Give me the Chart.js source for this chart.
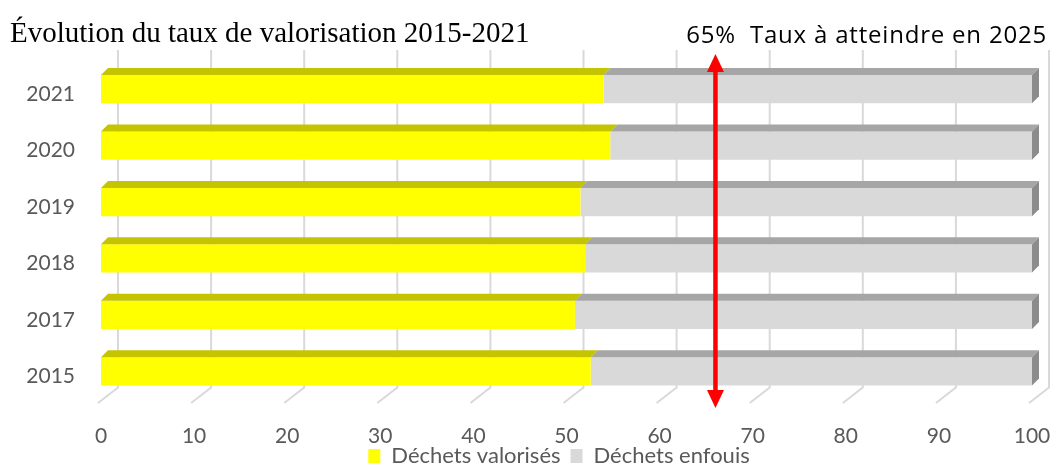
<!DOCTYPE html>
<html>
<head>
<meta charset="utf-8">
<script src="https://cdn.jsdelivr.net/npm/chart.js@4"></script>
<style>
  html, body { margin: 0; padding: 0; background: #fff; }
</style>
</head>
<body>
<canvas id="myChart" width="1051" height="466"></canvas>
<script>
// données
const annees = ['2021', '2020', '2019', '2018', '2017', '2015'];
const valorises = [54.0, 54.7, 51.5, 52.0, 50.9, 52.6];
const enfouis = [46.0, 45.3, 48.5, 48.0, 49.1, 47.4];
const graduations = [0, 10, 20, 30, 40, 50, 60, 70, 80, 90, 100];
const cible = 66;   // position de la flèche rouge sur l'axe
const titre = 'Évolution du taux de valorisation 2015-2021';
const texteCible = '65%  Taux à atteindre en 2025';

const police = 'Lato';
const gris = '#595959';
const DX = 7, DY = 7;   // profondeur du relief

const relief = {
    id: 'relief',
    afterLayout(chart) {
        // la légende est un peu plus haut et décalée à droite
        const lg = chart.legend;
        lg.top -= 10; lg.bottom -= 10;
        lg.left += 43; lg.right += 43;
    },
    beforeDatasetsDraw(chart) {
        const {ctx, chartArea: ca, scales: {x}} = chart;
        ctx.save();
        ctx.strokeStyle = '#d9d9d9';
        ctx.lineWidth = 2;
        graduations.forEach(v => {
            const px = x.getPixelForValue(v);
            ctx.beginPath();
            ctx.moveTo(px + 17, ca.top - 11);
            ctx.lineTo(px + 17, ca.bottom - 12);
            ctx.lineTo(px - 3, ca.bottom + 3.5);
            ctx.stroke();
        });
        ctx.restore();
    },
    afterDatasetsDraw(chart) {
        const ctx = chart.ctx;
        const last = chart.data.datasets.length - 1;
        ctx.save();
        chart.data.datasets.forEach((ds, i) => {
            chart.getDatasetMeta(i).data.forEach(bar => {
                const p = bar.getProps(['x', 'y', 'base', 'height'], true);
                const top = p.y - p.height / 2, bot = p.y + p.height / 2;
                ctx.fillStyle = ds.dessus;
                ctx.beginPath();
                ctx.moveTo(p.base, top);
                ctx.lineTo(p.x, top);
                ctx.lineTo(p.x + DX, top - DY);
                ctx.lineTo(p.base + DX, top - DY);
                ctx.closePath();
                ctx.fill();
                if (i === last) {
                    ctx.fillStyle = '#8c8c8c';
                    ctx.beginPath();
                    ctx.moveTo(p.x, top);
                    ctx.lineTo(p.x + DX, top - DY);
                    ctx.lineTo(p.x + DX, bot - DY);
                    ctx.lineTo(p.x, bot);
                    ctx.closePath();
                    ctx.fill();
                }
            });
        });
        ctx.restore();
    },
    afterDraw(chart) {
        const {ctx, chartArea: ca, scales: {x}} = chart;
        ctx.save();
        // titre
        ctx.fillStyle = '#000';
        ctx.textBaseline = 'alphabetic';
        ctx.textAlign = 'left';
        ctx.font = '29px "Liberation Serif"';
        ctx.fillText(titre, 10, 42);
        ctx.font = '24px "Open Sans"';
        ctx.letterSpacing = '0.8px';
        ctx.textAlign = 'right';
        ctx.fillText(texteCible, 1047, 43);
        ctx.letterSpacing = '0px';

        // flèche rouge
        const ax = x.getPixelForValue(cible);
        const y1 = ca.top - 7, y2 = ca.bottom + 8.5;
        const tete = 18, demi = 8.5;
        ctx.strokeStyle = '#ff0000';
        ctx.fillStyle = '#ff0000';
        ctx.lineWidth = 4.5;
        ctx.beginPath();
        ctx.moveTo(ax, y1 + tete - 2);
        ctx.lineTo(ax, y2 - tete + 2);
        ctx.stroke();
        ctx.beginPath();
        ctx.moveTo(ax, y1);
        ctx.lineTo(ax + demi, y1 + tete);
        ctx.lineTo(ax - demi, y1 + tete);
        ctx.closePath();
        ctx.fill();
        ctx.beginPath();
        ctx.moveTo(ax, y2);
        ctx.lineTo(ax + demi, y2 - tete);
        ctx.lineTo(ax - demi, y2 - tete);
        ctx.closePath();
        ctx.fill();
        ctx.restore();
    }
};

new Chart(document.getElementById('myChart'), {
    type: 'bar',
    data: {
        labels: annees,
        datasets: [{
            label: 'Déchets valorisés',
            data: valorises,
            backgroundColor: '#ffff00',
            dessus: '#c4c400',
            borderWidth: 0,
            barPercentage: 0.5,
            categoryPercentage: 1
        }, {
            label: 'Déchets enfouis',
            data: enfouis,
            backgroundColor: '#d9d9d9',
            dessus: '#a6a6a6',
            borderWidth: 0,
            barPercentage: 0.5,
            categoryPercentage: 1
        }]
    },
    options: {
        indexAxis: 'y',
        responsive: false,
        animation: false,
        layout: {padding: {top: 61, right: 19, bottom: -21, left: 0}},
        scales: {
            x: {
                stacked: true,
                min: 0,
                max: 100,
                grid: {display: false, drawTicks: false},
                border: {display: false},
                ticks: {stepSize: 10, color: gris, padding: 24, font: {family: police, size: 21}},
                afterFit: s => { s.height = 45.5; s.paddingLeft = 0; s.paddingRight = 0; }
            },
            y: {
                stacked: true,
                grid: {display: false, drawTicks: false},
                border: {display: false},
                ticks: {color: gris, padding: 26, labelOffset: 5, font: {family: police, size: 21}},
                afterFit: s => { s.width = 101; }
            }
        },
        plugins: {
            legend: {
                position: 'bottom',
                labels: {boxWidth: 12, boxHeight: 14, padding: 10, color: gris, font: {family: police, size: 22}}
            },
            tooltip: {enabled: false}
        }
    },
    plugins: [relief]
});
</script>
</body>
</html>
